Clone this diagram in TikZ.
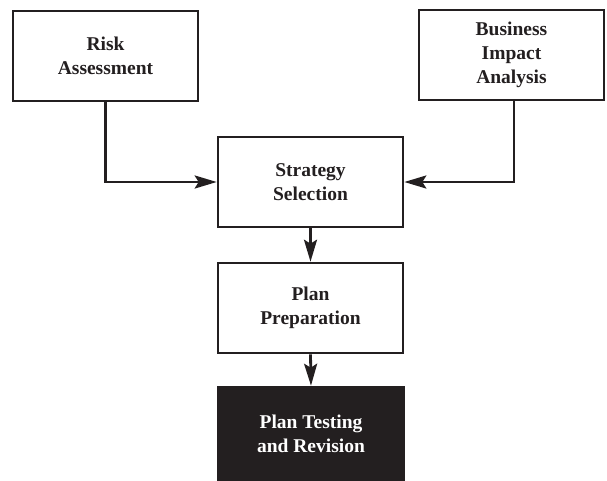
\documentclass[tikz,border=0pt]{standalone}
\usepackage{fontspec}
\setmainfont{Liberation Serif}
\usetikzlibrary{arrows.meta}
\definecolor{ink}{HTML}{231F20}
\begin{document}
\begin{tikzpicture}[x=1pt,y=-1pt,
  stagebox/.style={draw=ink, line width=2.6pt, fill=white, rectangle,
    minimum width=185pt, minimum height=90pt, inner sep=0pt,
    align=center, font=\fontsize{19.5}{24}\selectfont\bfseries, text=ink},
  darkbox/.style={stagebox, fill=ink, draw=ink, text=white,
    minimum height=94pt},
  flow/.style={draw=ink, line width=2.8pt,
    -{Stealth[length=22pt, width=13pt, inset=4pt]}}]
  \useasboundingbox (0,0) rectangle (607,480);

  \node[stagebox] (risk) at (105.5,56) {Risk\\Assessment};
  \node[stagebox] (bia) at (511.5,55) {Business\\Impact\\Analysis};
  \node[stagebox] (strat) at (310.5,182) {Strategy\\Selection};
  \node[stagebox] (prep) at (310.5,308) {Plan\\Preparation};
  \node[darkbox] (test) at (311,434) {Plan Testing\\and Revision};

  \draw[flow] (risk.south) |- (strat.west);
  \draw[flow] ([xshift=2.5pt]bia.south) |- (strat.east);
  \draw[flow] (strat.south) -- (prep.north);
  \draw[flow] (prep.south) -- (test.north);
\end{tikzpicture}
\end{document}
